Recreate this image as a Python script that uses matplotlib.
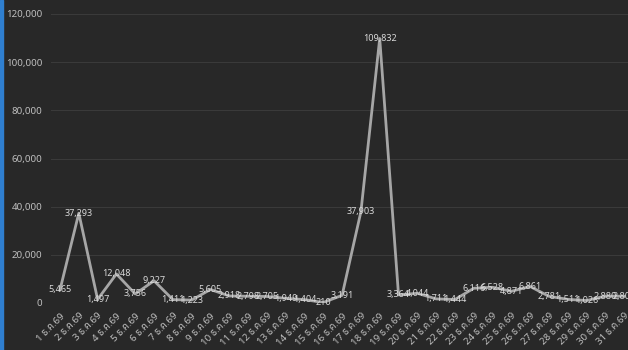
import matplotlib.pyplot as plt
from matplotlib.patches import Rectangle

days = [str(d) + " ธ.ค.69" for d in range(1, 32)]
values = [5465, 37293, 1497, 12048, 3756, 9227, 1411, 1223, 5605, 2918,
          2798, 2705, 1949, 1404, 210, 3191, 37903, 109832, 3364, 4044,
          1711, 1444, 6116, 6528, 4871, 6861, 2781, 1511, 1026, 2880, 2804]
yticks = [0, 20000, 40000, 60000, 80000, 100000, 120000]

plt.rcParams['font.family'] = ['Noto Sans', 'Noto Sans Thai', 'Anuphan', 'DejaVu Sans']
bg = '#282828'
fig = plt.figure(figsize=(6.28, 3.5), dpi=100, facecolor=bg)
ax = fig.add_axes([50.6/628, 47/350, 583/628, 289/350], facecolor=bg)
fig.patches.append(Rectangle((0, 0), 3/628, 1, transform=fig.transFigure,
                             color='#2f7fd0', zorder=5))

x = [i + 0.5 for i in range(len(values))]
ax.plot(x, values, color='#a6a6a6', lw=2)
for xi, v in zip(x, values):
    ax.text(xi, v, f"{v:,}", ha='center', va='center', fontsize=6.5,
            color='#d9d9d9')

ax.set_xlim(0, len(values))
ax.set_ylim(0, 120000)
ax.set_yticks(yticks)
ax.set_yticklabels([f"{t:,}" for t in yticks], fontsize=7, color='#bfbfbf')
ax.set_xticks(x)
ax.set_xticklabels(days, rotation=45, ha='right', rotation_mode='anchor',
                   fontsize=7, color='#bfbfbf')
ax.tick_params(length=0, pad=6)
ax.grid(axis='y', color='#3a3a3a', lw=0.8)
ax.set_axisbelow(True)
for s in ax.spines.values():
    s.set_visible(False)

fig.savefig("out.png", facecolor=bg)
